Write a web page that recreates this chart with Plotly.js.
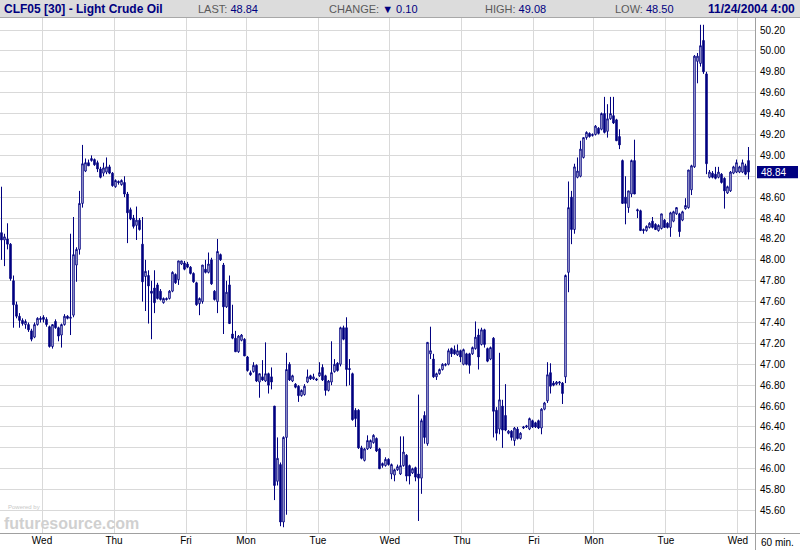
<!DOCTYPE html>
<html>
<head>
<meta charset="utf-8">
<script src="https://cdn.plot.ly/plotly-3.0.1.min.js"></script>
<style>html,body{margin:0;padding:0;background:#fff;}#chart{width:800px;height:550px;}</style>
</head>
<body>
<div id="chart"></div>
<script>
// ---- data (30-minute bars) ----
const openP = [
48.26,48.19,48.20,48.15,47.80,47.57,47.46,47.42,47.38,47.38,
47.32,47.26,47.38,47.44,47.45,47.43,47.36,47.17,47.41,47.35,
47.28,47.38,47.46,47.44,47.47,47.95,48.10,48.54,48.85,48.93,
48.95,48.96,48.93,48.87,48.83,48.84,48.89,48.83,48.70,48.75,
48.72,48.74,48.63,48.48,48.40,48.33,48.38,48.15,47.84,47.85,
47.70,47.73,47.76,47.70,47.59,47.63,47.63,47.70,47.86,47.81,
47.96,47.97,47.96,47.93,47.87,47.78,47.58,47.60,47.91,47.88,
48.00,47.70,47.60,48.05,47.95,47.55,47.76,47.29,47.25,47.12,
47.23,47.24,47.07,46.92,46.93,46.99,46.83,46.88,46.84,46.91,
46.88,46.60,45.88,46.04,45.49,46.30,47.00,46.84,46.81,46.79,
46.70,46.71,46.83,46.89,46.86,46.86,46.89,46.97,46.89,46.75,
46.83,46.93,47.01,47.00,47.35,47.35,46.96,46.91,46.56,46.56,
46.20,46.08,46.19,46.20,46.25,46.29,46.19,46.03,46.03,46.09,
45.95,45.94,45.99,45.95,46.03,46.13,46.03,45.96,46.01,45.95,
45.91,46.51,46.24,47.10,47.05,46.88,46.91,46.95,46.99,47.00,
47.15,47.14,47.09,47.13,47.00,47.10,47.10,47.10,47.15,47.28,
47.19,47.33,47.15,47.05,47.25,46.56,46.38,46.60,46.51,46.34,
46.36,46.27,46.38,46.29,46.39,46.40,46.38,46.46,46.44,46.46,
46.39,46.57,46.65,46.92,46.82,46.81,46.82,46.82,46.88,47.88,
48.60,48.29,48.79,48.80,48.98,49.17,49.21,49.19,49.20,49.26,
49.25,49.40,49.23,49.35,49.38,49.34,49.18,48.95,48.60,48.50,
48.63,48.95,48.48,48.47,48.29,48.28,48.31,48.37,48.34,48.28,
48.30,48.38,48.35,48.31,48.37,48.44,48.44,48.38,48.49,48.50,
48.67,48.89,49.90,49.88,50.10,49.78,48.79,48.83,48.82,48.79,
48.82,48.78,48.64,48.66,48.83,48.84,48.84,48.84,48.90,48.95
];
const highP = [
48.70,48.25,48.35,48.16,47.85,47.60,47.49,47.44,47.43,47.40,
47.34,47.40,47.45,47.46,47.47,47.45,47.37,47.38,47.43,47.36,
47.39,47.48,47.47,48.25,48.41,48.12,48.66,49.10,48.97,48.96,
49.00,48.97,48.95,48.89,48.93,48.98,48.91,48.84,48.77,48.76,
48.77,48.80,48.65,48.50,48.43,48.51,48.40,48.41,48.00,47.90,
47.80,47.90,47.78,47.72,47.64,47.64,47.71,47.89,47.87,47.99,
47.99,47.99,47.98,47.94,47.88,47.79,47.64,47.95,48.00,48.07,
48.02,47.71,48.20,48.06,47.97,47.80,47.85,47.57,47.32,47.28,
47.29,47.25,47.08,46.94,47.02,47.00,46.91,47.04,47.21,46.92,
46.97,46.60,46.30,46.06,46.31,47.11,47.02,46.90,46.82,46.80,
46.76,46.81,46.95,46.90,46.91,46.87,47.02,47.00,46.90,46.85,
47.22,47.05,47.02,47.36,47.37,47.45,47.05,46.92,46.58,46.57,
46.22,46.20,46.32,46.28,46.33,46.30,46.20,46.06,46.11,46.10,
46.05,46.00,46.04,46.31,46.31,46.14,46.04,46.01,46.02,46.71,
46.48,46.55,47.21,47.36,47.10,46.92,46.96,47.01,47.01,47.15,
47.16,47.18,47.19,47.14,47.15,47.11,47.11,47.17,47.41,47.34,
47.35,47.34,47.16,47.17,47.26,46.59,47.11,46.66,46.81,46.37,
46.37,46.40,46.40,46.35,46.41,46.42,46.49,46.47,46.45,46.47,
46.58,46.64,47.02,47.01,46.84,46.84,46.84,46.83,47.86,48.75,
48.66,48.92,48.98,49.14,49.17,49.23,49.22,49.21,49.29,49.27,
49.41,49.56,49.49,49.56,49.56,49.35,49.25,48.96,48.80,48.66,
48.96,49.15,48.49,48.48,48.30,48.33,48.36,48.41,48.35,48.34,
48.44,48.39,48.36,48.46,48.47,48.50,48.45,48.47,48.59,48.86,
48.91,49.96,49.98,50.25,50.25,49.80,48.86,48.85,48.89,48.89,
48.83,48.79,48.71,48.85,48.90,48.96,48.90,48.96,48.92,49.08
];
const lowP = [
48.00,47.94,48.10,47.80,47.35,47.44,47.35,47.37,47.34,47.31,
47.22,47.25,47.37,47.40,47.40,47.36,47.16,47.15,47.34,47.22,
47.16,47.37,47.43,47.28,47.45,47.79,48.05,48.50,48.84,48.90,
48.94,48.90,48.84,48.78,48.80,48.82,48.82,48.70,48.69,48.72,
48.71,48.60,48.16,48.38,48.30,48.19,48.28,47.60,47.51,47.39,
47.24,47.49,47.62,47.61,47.58,47.61,47.62,47.69,47.77,47.76,
47.95,47.90,47.92,47.86,47.78,47.56,47.47,47.58,47.87,47.87,
47.76,47.61,47.49,47.99,47.29,47.54,47.39,47.24,47.12,47.11,
47.22,47.08,46.93,46.89,46.92,46.83,46.68,46.84,46.83,46.72,
46.76,45.70,45.84,45.45,45.44,45.56,46.84,46.83,46.77,46.64,
46.69,46.70,46.82,46.85,46.85,46.84,46.88,46.84,46.70,46.74,
46.80,46.92,46.93,46.98,47.23,46.79,46.80,46.46,46.40,46.19,
46.09,46.07,46.18,46.19,46.24,46.16,46.00,46.01,46.02,46.03,
45.90,45.88,45.98,45.94,46.02,45.88,45.85,45.95,45.88,45.50,
45.76,46.24,46.22,47.05,46.87,46.85,46.90,46.94,46.98,46.99,
47.07,47.09,47.08,47.02,46.99,46.99,46.91,47.09,47.14,46.95,
47.18,47.16,47.02,47.04,46.30,46.27,46.33,46.20,46.36,46.33,
46.27,46.22,46.28,46.28,46.38,46.39,46.37,46.39,46.39,46.38,
46.33,46.56,46.63,46.72,46.79,46.80,46.80,46.62,46.82,47.69,
48.15,48.25,48.78,48.79,48.97,49.15,49.17,49.18,49.19,49.20,
49.24,49.21,49.17,49.34,49.30,49.14,49.06,48.54,48.34,48.45,
48.60,48.63,48.40,48.28,48.25,48.27,48.30,48.30,48.29,48.27,
48.29,48.31,48.30,48.22,48.36,48.43,48.22,48.37,48.48,48.49,
48.62,48.88,49.69,49.85,49.78,48.82,48.78,48.78,48.77,48.78,
48.73,48.49,48.63,48.65,48.82,48.83,48.83,48.83,48.81,48.77
];
const closeP = [
48.19,48.22,48.15,47.82,47.57,47.46,47.42,47.39,47.41,47.33,
47.24,47.38,47.44,47.43,47.43,47.38,47.17,47.38,47.35,47.27,
47.38,47.46,47.44,47.45,48.05,48.10,48.54,48.92,48.93,48.90,
48.97,48.91,48.87,48.79,48.88,48.89,48.83,48.71,48.76,48.74,
48.76,48.63,48.45,48.39,48.32,48.38,48.29,47.79,47.89,47.75,
47.68,47.59,47.63,47.62,47.63,47.62,47.70,47.88,47.78,47.99,
47.99,47.91,47.93,47.87,47.79,47.57,47.63,47.95,47.88,47.96,
47.77,47.62,48.08,48.00,47.55,47.69,47.39,47.25,47.12,47.27,
47.28,47.08,46.94,46.90,46.99,46.84,46.91,46.85,46.91,46.80,
46.83,45.84,46.10,45.49,46.30,46.95,46.85,46.89,46.78,46.70,
46.75,46.79,46.88,46.86,46.88,46.85,46.92,46.85,46.75,46.84,
46.92,47.00,46.94,47.35,47.24,46.95,46.95,46.47,46.48,46.20,
46.10,46.19,46.27,46.27,46.32,46.17,46.00,46.05,46.09,46.04,
46.04,45.99,46.02,46.03,46.16,45.93,45.93,46.00,45.92,45.91,
46.46,46.30,47.21,47.13,46.88,46.91,46.95,47.00,47.00,47.13,
47.10,47.10,47.13,47.07,47.14,47.00,46.99,47.16,47.26,47.07,
47.33,47.19,47.03,47.16,46.55,46.34,46.66,46.37,46.37,46.36,
46.30,46.39,46.29,46.34,46.40,46.41,46.48,46.40,46.40,46.39,
46.57,46.63,46.90,46.79,46.80,46.83,46.83,46.72,47.85,48.50,
48.29,48.89,48.85,49.06,49.17,49.22,49.18,49.20,49.28,49.21,
49.40,49.22,49.35,49.40,49.31,49.14,49.10,48.54,48.54,48.66,
48.95,48.63,48.47,48.28,48.28,48.32,48.35,48.31,48.29,48.33,
48.44,48.31,48.31,48.45,48.46,48.50,48.27,48.46,48.52,48.86,
48.90,49.95,49.95,50.05,49.80,48.92,48.84,48.79,48.78,48.84,
48.74,48.66,48.70,48.84,48.89,48.93,48.89,48.93,48.82,48.84
];
// session boundaries (in bar units) and their labels
const dayBreaks = [13.5, 37.5, 61.5, 81.5, 105.5, 129.5, 153.5, 177.5, 197.5, 221.5, 245.5];
const dayLabels = ['Wed','Thu','Fri','Mon','Tue','Wed','Thu','Fri','Mon','Tue','Wed'];
const priceTicks = [45.6,45.8,46.0,46.2,46.4,46.6,46.8,47.0,47.2,47.4,47.6,47.8,48.0,48.2,48.4,48.6,48.8,49.0,49.2,49.4,49.6,49.8,50.0,50.2];
const lastPrice = 48.84;
const header = {symbol: 'CLF05 [30] - Light Crude Oil', last: '48.84', change: '0.10', high: '49.08', low: '48.50', stamp: '11/24/2004 4:00'};

const barX = openP.map((_, i) => i);

// pixel helpers for decorations (plot area: x 0..755, y 18..533)
const W = 755, TOP = 18, BOT = 533, H = BOT - TOP;
const px = X => X / W;
const py = Y => (BOT - Y) / H;

const NAVY = '#000080';
const FONT = 'Arial, "Liberation Sans", sans-serif';

const trace = {
  type: 'candlestick',
  x: barX, open: openP, high: highP, low: lowP, close: closeP,
  increasing: {line: {color: NAVY, width: 1}, fillcolor: '#ffffff'},
  decreasing: {line: {color: NAVY, width: 1}, fillcolor: NAVY},
  whiskerwidth: 0,
  hoverinfo: 'skip'
};

const shapes = [
  // header bar
  {type: 'rect', xref: 'paper', yref: 'paper', x0: px(0), x1: px(800), y0: py(17), y1: py(0),
   fillcolor: '#dcdcdc', line: {width: 0}, layer: 'above'},
  {type: 'line', xref: 'paper', yref: 'paper', x0: px(0), x1: px(800), y0: py(17.5), y1: py(17.5),
   line: {color: '#a8a8a8', width: 1}, layer: 'above'},
  // bottom axis line
  {type: 'line', xref: 'paper', yref: 'paper', x0: px(0), x1: px(800), y0: py(533.5), y1: py(533.5),
   line: {color: '#a0a0a0', width: 1}, layer: 'above'},
  // right axis line
  {type: 'line', xref: 'paper', yref: 'paper', x0: px(755.5), x1: px(755.5), y0: py(550), y1: py(17.5),
   line: {color: '#a0a0a0', width: 1}, layer: 'above'},
  // last price box
  {type: 'rect', xref: 'paper', yref: 'y', x0: px(757), x1: px(798), y0: lastPrice - 0.058, y1: lastPrice + 0.058,
   fillcolor: NAVY, line: {width: 0}, layer: 'above'}
];

const gray = '#5a5a5a';
const annotations = [
  {text: '<b>' + header.symbol + '</b>', x: px(2), y: py(9), xanchor: 'left', yanchor: 'middle',
   font: {family: FONT, size: 12, color: NAVY}},
  {text: '<span style="color:' + gray + '">LAST:</span> ' + header.last, x: px(196), y: py(9), xanchor: 'left', yanchor: 'middle',
   font: {family: FONT, size: 11, color: NAVY}},
  {text: '<span style="color:' + gray + '">CHANGE:</span> ▼ ' + header.change, x: px(327), y: py(9), xanchor: 'left', yanchor: 'middle',
   font: {family: FONT, size: 11, color: NAVY}},
  {text: '<span style="color:' + gray + '">HIGH:</span> ' + header.high, x: px(483), y: py(9), xanchor: 'left', yanchor: 'middle',
   font: {family: FONT, size: 11, color: NAVY}},
  {text: '<span style="color:' + gray + '">LOW:</span> ' + header.low, x: px(613), y: py(9), xanchor: 'left', yanchor: 'middle',
   font: {family: FONT, size: 11, color: NAVY}},
  {text: '<b>' + header.stamp + '</b>', x: px(797), y: py(9), xanchor: 'right', yanchor: 'middle',
   font: {family: FONT, size: 12, color: NAVY}},
  {text: lastPrice.toFixed(2), x: px(759), yref: 'y', y: lastPrice, xanchor: 'left', yanchor: 'middle',
   font: {family: FONT, size: 10, color: '#ffffff'}},
  {text: '60 min.', x: px(759), y: py(542), xanchor: 'left', yanchor: 'middle',
   font: {family: FONT, size: 10, color: '#000000'}},
  {text: 'Powered by', x: px(7), y: py(507), xanchor: 'left', yanchor: 'middle',
   font: {family: FONT, size: 6, color: '#c8c8c8'}, borderpad: 0},
  {text: '<b>futuresource.com</b>', x: px(3), y: py(523), xanchor: 'left', yanchor: 'middle',
   font: {family: FONT, size: 16, color: '#d0d0d0'}, borderpad: 0}
].map(a => Object.assign({xref: 'paper', yref: 'paper', showarrow: false}, a));

// the last-price box covers the tick label that sits under it
const tickText = priceTicks.map(v => Math.abs(v - lastPrice) < 0.1 ? '' : v.toFixed(2));

const layout = {
  width: 800, height: 550,
  margin: {l: 0, r: 45, t: 18, b: 17, pad: 0},
  paper_bgcolor: '#ffffff', plot_bgcolor: '#ffffff',
  showlegend: false,
  font: {family: FONT, size: 10, color: '#000000'},
  xaxis: {
    range: [-0.5, 251.17],
    tickmode: 'array', tickvals: dayBreaks, ticktext: dayLabels,
    showgrid: true, gridcolor: '#d9d9d9', gridwidth: 1,
    zeroline: false, showline: false, ticks: '',
    tickfont: {family: FONT, size: 10, color: '#000000'},
    rangeslider: {visible: false}, fixedrange: true
  },
  yaxis: {
    side: 'right',
    range: [45.385, 50.315],
    tickmode: 'array', tickvals: priceTicks, ticktext: tickText,
    showgrid: true, gridcolor: '#d9d9d9', gridwidth: 1,
    zeroline: false, showline: false, ticks: '',
    ticklabelstandoff: 4,
    tickfont: {family: FONT, size: 10, color: '#000000'},
    fixedrange: true
  },
  shapes: shapes,
  annotations: annotations
};

Plotly.newPlot('chart', [trace], layout, {staticPlot: true, displayModeBar: false});
</script>
</body>
</html>
